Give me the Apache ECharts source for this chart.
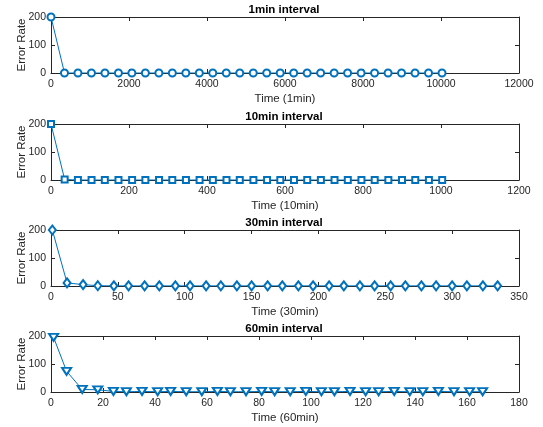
<!DOCTYPE html>
<html><head><meta charset="utf-8">
<script src="https://cdn.jsdelivr.net/npm/echarts@6/dist/echarts.min.js"></script>
<style>html,body{margin:0;padding:0;background:#fff}#c{width:543px;height:427px}</style>
</head><body><div id="c"></div>
<script>
var titles = ['1min interval', '10min interval', '30min interval', '60min interval'];
var xNames = ['Time (1min)', 'Time (10min)', 'Time (30min)', 'Time (60min)'];
var yName = 'Error Rate';
var xMax = [12000, 1200, 350, 180];
var xStep = [2000, 200, 50, 20];
var yMax = 200, yStep = 100;

var x1 = [0, 346, 691, 1037, 1383, 1729, 2074, 2420, 2766, 3111, 3457, 3803, 4148, 4494, 4840, 5186, 5531, 5877, 6223, 6568, 6914, 7260, 7605, 7951, 8297, 8643, 8988, 9334, 9680, 10026];
var y1 = [200, 0, 0, 0, 0, 0, 0, 0, 0, 0, 0, 0, 0, 0, 0, 0, 0, 0, 0, 0, 0, 0, 0, 0, 0, 0, 0, 0, 0, 0];
var x2 = [0, 35, 69, 104, 138, 173, 208, 242, 277, 311, 346, 381, 415, 450, 484, 519, 554, 588, 623, 657, 692, 727, 761, 796, 830, 865, 900, 934, 969, 1003];
var y2 = [200, 2, 0, 0, 0, 0, 0, 0, 0, 0, 0, 0, 0, 0, 0, 0, 0, 0, 0, 0, 0, 0, 0, 0, 0, 0, 0, 0, 0, 0];
var x3 = [1, 12, 24, 35, 47, 58, 70, 81, 93, 104, 116, 127, 139, 150, 162, 173, 185, 196, 208, 219, 231, 242, 254, 265, 277, 288, 300, 311, 323, 334];
var y3 = [200, 11, 5, 1, 0.5, 0.5, 0.5, 0.5, 0.5, 0.5, 0.5, 0.5, 0.5, 0.5, 0.5, 0.5, 0.5, 0.5, 0.5, 0.5, 0.5, 0.5, 0.5, 0.5, 0.5, 0.5, 0.5, 0.5, 0.5, 0.5];
var x4 = [1, 6, 12, 18, 24, 29, 35, 41, 46, 52, 58, 64, 69, 75, 81, 86, 92, 98, 104, 109, 115, 121, 126, 132, 138, 143, 149, 155, 161, 166];
var y4 = [195, 74, 9, 8, 2, 1, 2, 1, 2, 1, 1, 2, 1, 1, 2, 1, 1, 2, 1, 1, 2, 1, 1, 2, 1, 1, 2, 1, 1, 1];

var xs = [x1, x2, x3, x4], ys = [y1, y2, y3, y4];
var symbols = ['emptyCircle', 'emptyRect', 'emptyDiamond', 'emptyTriangle'];
var symSizes = [7, 6, [7, 9], [9, 7]];
var symRot = [0, 0, 0, 180];
var tops = [17, 124, 230, 336];

var FONT = 'Liberation Sans, Arial, Helvetica, sans-serif';
var AX = '#262626';
var BLUE = '#0072BD';

var grids = [], xAxes = [], yAxes = [], series = [], gtitles = [];
for (var k = 0; k < 4; k++) {
  grids.push({left: 51, right: 24, top: tops[k], height: 56, containLabel: false, outerBoundsMode: 'none'});
  gtitles.push({text: titles[k], left: 284, top: tops[k] - 13, textAlign: 'center', padding: 0,
    textStyle: {fontFamily: FONT, fontSize: 11.5, fontWeight: 'bold', color: '#000'}});
  var lineStyle = {color: AX, width: 1};
  xAxes.push({type: 'value', gridIndex: k, position: 'bottom', min: 0, max: xMax[k], interval: xStep[k],
    name: xNames[k], nameLocation: 'middle', nameGap: 20, nameMoveOverlap: false,
    nameTextStyle: {fontFamily: FONT, fontSize: 11.5, color: AX},
    axisLine: {show: true, onZero: false, lineStyle: lineStyle},
    axisTick: {show: true, inside: true, length: 4, lineStyle: lineStyle},
    axisLabel: {fontFamily: FONT, fontSize: 10.5, color: AX, margin: 6, formatter: function (v) { return String(v); }},
    splitLine: {show: false}});
  xAxes.push({type: 'value', gridIndex: k, position: 'top', min: 0, max: xMax[k], interval: xStep[k],
    axisLine: {show: true, onZero: false, lineStyle: lineStyle},
    axisTick: {show: true, inside: true, length: 4, lineStyle: lineStyle},
    axisLabel: {show: false}, splitLine: {show: false}});
  yAxes.push({type: 'value', gridIndex: k, position: 'left', min: 0, max: yMax, interval: yStep,
    name: yName, nameLocation: 'middle', nameGap: 23, nameMoveOverlap: false,
    nameTextStyle: {fontFamily: FONT, fontSize: 11.5, color: AX},
    axisLine: {show: true, onZero: false, lineStyle: lineStyle},
    axisTick: {show: true, inside: true, length: 4, lineStyle: lineStyle},
    axisLabel: {fontFamily: FONT, fontSize: 10.5, color: AX, margin: 5, formatter: function (v) { return String(v); }},
    splitLine: {show: false}});
  yAxes.push({type: 'value', gridIndex: k, position: 'right', min: 0, max: yMax, interval: yStep,
    axisLine: {show: true, onZero: false, lineStyle: lineStyle},
    axisTick: {show: true, inside: true, length: 4, lineStyle: lineStyle},
    axisLabel: {show: false}, splitLine: {show: false}});
  var data = [];
  for (var i = 0; i < xs[k].length; i++) data.push([xs[k][i], ys[k][i]]);
  series.push({type: 'line', xAxisIndex: 2 * k, yAxisIndex: 2 * k, data: data,
    symbol: symbols[k], symbolSize: symSizes[k], symbolRotate: symRot[k], showAllSymbol: true,
    lineStyle: {color: BLUE, width: 1}, itemStyle: {color: BLUE, borderColor: BLUE, borderWidth: 0.7},
    emphasis: {disabled: true}});
}

var chart = echarts.init(document.getElementById('c'), null, {renderer: 'canvas'});
chart.setOption({
  animation: false, backgroundColor: '#fff',
  title: gtitles, grid: grids, xAxis: xAxes, yAxis: yAxes, series: series
});
</script></body></html>
